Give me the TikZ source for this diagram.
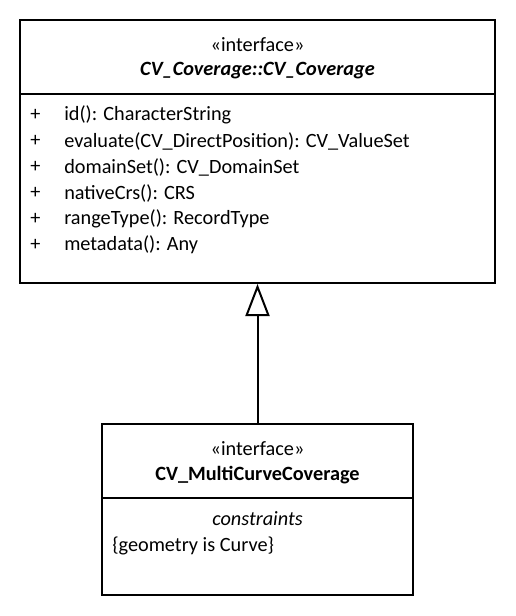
\documentclass[tikz,border=0pt]{standalone}
\usepackage{fontspec}
\setmainfont{Carlito}
\usetikzlibrary{arrows.meta}
\begin{document}
\begin{tikzpicture}[x=0.75pt,y=-0.75pt,
  box/.style={draw,line width=1.5pt,rectangle,inner sep=0pt},
  txt/.style={inner sep=0pt,font=\fontsize{15.2}{18}\selectfont},
  ctxt/.style={txt,anchor=center},
  ltxt/.style={txt,anchor=west},
  gen/.style={line width=1.5pt,-{Triangle[open,length=24pt,width=18pt,line width=1.5pt]}}]
\useasboundingbox (0,0) rectangle (516,616);
% top class
\node[box,minimum width=475*0.75pt,minimum height=263*0.75pt] (top) at (257.5,151.5) {};
\coordinate (tdl) at (20,94);
\coordinate (tdr) at (495,94);
\draw[line width=1.5pt] (tdl) -- (tdr);
\node[ctxt] (tst) at (257.5,45) {«interface»};
\node[ctxt] (tnm) at (257.5,71) {\bfseries\itshape CV\_Coverage::CV\_Coverage};
\foreach \i/\t in {0/{id(): CharacterString},1/{evaluate(CV\_DirectPosition): CV\_ValueSet},2/{domainSet(): CV\_DomainSet},3/{nativeCrs(): CRS},4/{rangeType(): RecordType},5/{metadata(): Any}}{
  \node[ltxt] (p\i) at (30,115+26*\i) {+};
  \node[ltxt] (o\i) at (64,115+26*\i) {\t};
}
% bottom class
\node[box,minimum width=311*0.75pt,minimum height=171*0.75pt] (bot) at (257.5,509.5) {};
\coordinate (bdl) at (102,498);
\coordinate (bdr) at (413,498);
\draw[line width=1.5pt] (bdl) -- (bdr);
\node[ctxt] (bst) at (257.5,449) {«interface»};
\node[ctxt] (bnm) at (257.5,475) {\bfseries CV\_MultiCurveCoverage};
\node[ctxt] (bcs) at (257.5,519) {\itshape constraints};
\node[ltxt] (bgc) at (112,546) {\{geometry is Curve\}};
% generalization
\draw[gen] (bot.north) -- (top.south);
\end{tikzpicture}
\end{document}
